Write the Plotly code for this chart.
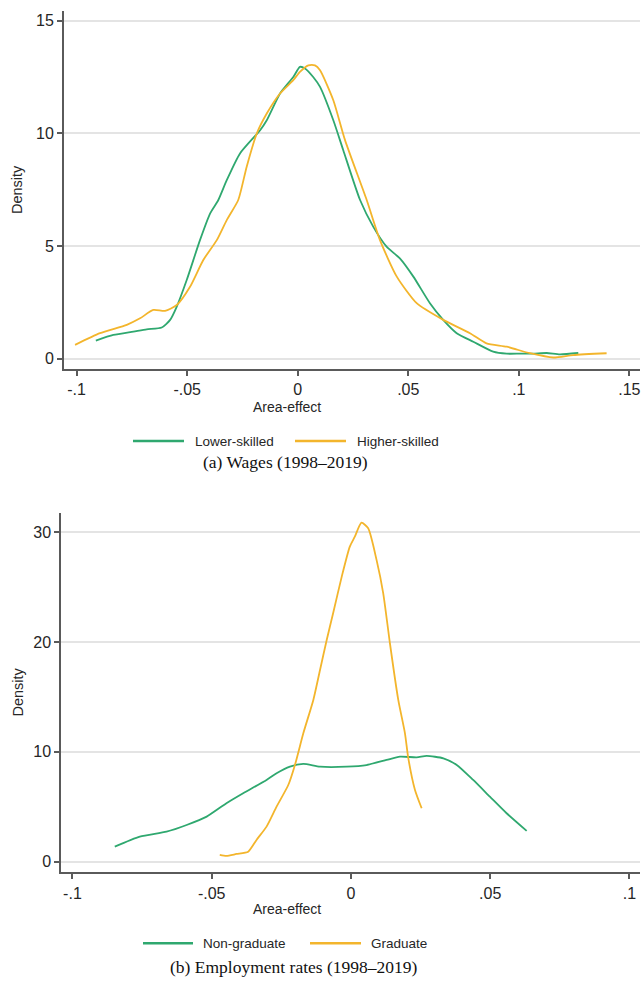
import plotly.graph_objects as go

# ---------------- data ----------------
wage_low_x = [-0.0913, -0.0834, -0.0743, -0.0683, -0.0615, -0.0577, -0.0547, -0.0502, -0.0442, -0.0396,
              -0.0359, -0.0321, -0.0261, -0.0170, -0.0140, -0.0080, -0.0020, 0.0010, 0.0033, 0.0070,
              0.0101, 0.0161, 0.0206, 0.0282, 0.0342, 0.0402, 0.0462, 0.0523, 0.0598, 0.0658,
              0.0719, 0.0794, 0.0884, 0.0945, 0.1005, 0.1065, 0.1126, 0.1186, 0.1269]
wage_low_y = [0.80, 1.05, 1.20, 1.30, 1.38, 1.72, 2.31, 3.49, 5.26, 6.45,
              7.04, 7.92, 9.11, 10.14, 10.58, 11.77, 12.50, 12.95, 12.88, 12.50,
              12.06, 10.58, 9.25, 7.04, 5.85, 4.97, 4.45, 3.64, 2.46, 1.72,
              1.13, 0.75, 0.31, 0.22, 0.22, 0.22, 0.25, 0.19, 0.25]

wage_high_x = [-0.1007, -0.0894, -0.0773, -0.0713, -0.0653, -0.0600, -0.0547, -0.0487, -0.0427, -0.0366,
               -0.0321, -0.0269, -0.0231, -0.0185, -0.0140, -0.0080, -0.0020, 0.0010, 0.0048, 0.0078,
               0.0101, 0.0161, 0.0214, 0.0312, 0.0372, 0.0448, 0.0538, 0.0658, 0.0779, 0.0854,
               0.0945, 0.1050, 0.1156, 0.1246, 0.1397]
wage_high_y = [0.61, 1.13, 1.50, 1.79, 2.16, 2.12, 2.38, 3.19, 4.38, 5.26,
               6.15, 7.04, 8.51, 10.00, 10.88, 11.77, 12.36, 12.73, 13.02, 13.02,
               12.80, 11.47, 9.70, 7.04, 5.26, 3.64, 2.46, 1.72, 1.13, 0.68,
               0.53, 0.24, 0.05, 0.16, 0.24]

emp_non_x = [-0.0848, -0.0758, -0.0662, -0.0590, -0.0518, -0.0447, -0.0387, -0.0303, -0.0267, -0.0219,
             -0.0171, -0.0111, -0.0015, 0.0056, 0.0128, 0.0176, 0.0236, 0.0272, 0.0332, 0.0380,
             0.0439, 0.0499, 0.0559, 0.0631]
emp_non_y = [1.37, 2.28, 2.73, 3.34, 4.10, 5.32, 6.23, 7.44, 8.05, 8.65,
             8.90, 8.65, 8.65, 8.80, 9.26, 9.56, 9.50, 9.63, 9.41, 8.81,
             7.44, 5.92, 4.41, 2.80]

emp_grad_x = [-0.0471, -0.0447, -0.0411, -0.0369, -0.0339, -0.0303, -0.0267, -0.0225, -0.0201, -0.0171,
              -0.0135, -0.0111, -0.0087, -0.0064, -0.0033, -0.0004, 0.0014, 0.0038, 0.0062, 0.0092,
              0.0116, 0.0140, 0.0170, 0.0194, 0.0206, 0.0230, 0.0254]
emp_grad_y = [0.61, 0.52, 0.70, 0.91, 1.98, 3.19, 5.01, 6.98, 8.81, 11.69,
              14.73, 17.46, 20.19, 22.62, 25.96, 28.69, 29.60, 30.87, 30.36, 27.48,
              24.44, 19.89, 14.73, 11.69, 9.42, 6.53, 4.86]

top_xticks = [-0.1, -0.05, 0, 0.05, 0.1, 0.15]
top_xlabels = ["-.1", "-.05", "0", ".05", ".1", ".15"]
top_yticks = [0, 5, 10, 15]
bot_xticks = [-0.1, -0.05, 0, 0.05, 0.1]
bot_xlabels = ["-.1", "-.05", "0", ".05", ".1"]
bot_yticks = [0, 10, 20, 30]

top_names = ["Lower-skilled", "Higher-skilled"]
bot_names = ["Non-graduate", "Graduate"]
captions = ["(a) Wages (1998–2019)", "(b) Employment rates (1998–2019)"]
x_title = "Area-effect"
y_title = "Density"

# ---------------- style ----------------
W, H = 641, 988
GREEN = "#2fa86f"
ORANGE = "#f3b52c"
AXC = "#5a5a5a"
GRID = "#e4e4e4"
TXT = "#262626"
SANS = "Arial, Liberation Sans, sans-serif"
SERIF = "Times New Roman, Liberation Serif, serif"

def px_x(p):
    return p / W

def px_y(p):
    return 1 - p / H

fig = go.Figure()
fig.add_trace(go.Scatter(x=wage_low_x, y=wage_low_y, mode="lines", name=top_names[0],
                         line=dict(color=GREEN, width=1.8, shape="spline", smoothing=0.6),
                         xaxis="x", yaxis="y", showlegend=False))
fig.add_trace(go.Scatter(x=wage_high_x, y=wage_high_y, mode="lines", name=top_names[1],
                         line=dict(color=ORANGE, width=1.8, shape="spline", smoothing=0.6),
                         xaxis="x", yaxis="y", showlegend=False))
fig.add_trace(go.Scatter(x=emp_non_x, y=emp_non_y, mode="lines", name=bot_names[0],
                         line=dict(color=GREEN, width=1.8, shape="spline", smoothing=0.6),
                         xaxis="x2", yaxis="y2", showlegend=False))
fig.add_trace(go.Scatter(x=emp_grad_x, y=emp_grad_y, mode="lines", name=bot_names[1],
                         line=dict(color=ORANGE, width=1.8, shape="spline", smoothing=0.6),
                         xaxis="x2", yaxis="y2", showlegend=False))

axis_common = dict(showline=True, linecolor=AXC, linewidth=2, ticks="outside", ticklen=5,
                   tickwidth=1.5, tickcolor=AXC, zeroline=False,
                   tickfont=dict(family=SANS, size=16, color=TXT))

fig.update_layout(
    width=W, height=H, margin=dict(l=0, r=0, t=0, b=0),
    paper_bgcolor="white", plot_bgcolor="white", showlegend=False,
    xaxis=dict(domain=[px_x(64), px_x(640)], range=[-0.1057, 0.1548], anchor="y",
               tickvals=top_xticks, ticktext=top_xlabels, showgrid=False, **axis_common),
    yaxis=dict(domain=[px_y(369), px_y(11)], range=[-0.46, 15.43], anchor="x",
               tickvals=top_yticks, showgrid=True, gridcolor=GRID, gridwidth=1.5, **axis_common),
    xaxis2=dict(domain=[px_x(61.3), px_x(640)], range=[-0.104, 0.1038], anchor="y2",
                tickvals=bot_xticks, ticktext=bot_xlabels, showgrid=False, **axis_common),
    yaxis2=dict(domain=[px_y(872.3), px_y(512.7)], range=[-0.97, 31.78], anchor="x2",
                tickvals=bot_yticks, showgrid=True, gridcolor=GRID, gridwidth=1.5, **axis_common),
)

annos = []
shapes = []
# axis titles
for cx, cy in [(286.5, 407), (286.5, 909)]:
    annos.append(dict(text=x_title, x=px_x(cx), y=px_y(cy), xref="paper", yref="paper",
                      xanchor="center", yanchor="middle", showarrow=False,
                      font=dict(family=SANS, size=14, color=TXT)))
for cx, cy in [(17, 190), (17, 692.5)]:
    annos.append(dict(text=y_title, x=px_x(cx), y=px_y(cy), xref="paper", yref="paper",
                      xanchor="center", yanchor="middle", showarrow=False, textangle=-90,
                      font=dict(family=SANS, size=14.5, color=TXT)))
# legends (manual, Stata-style)
legend_rows = [
    (441, [(133, 184, 193, GREEN, top_names[0]), (295, 346, 355, ORANGE, top_names[1])]),
    (943.3, [(143, 193, 201, GREEN, bot_names[0]), (310, 361, 369, ORANGE, bot_names[1])]),
]
for ly, items in legend_rows:
    for x0, x1, tx, col, label in items:
        shapes.append(dict(type="line", xref="paper", yref="paper",
                           x0=px_x(x0), x1=px_x(x1), y0=px_y(ly), y1=px_y(ly),
                           line=dict(color=col, width=2.5)))
        annos.append(dict(text=label, x=px_x(tx), y=px_y(ly), xref="paper", yref="paper",
                          xanchor="left", yanchor="middle", showarrow=False,
                          font=dict(family=SANS, size=13.5, color=TXT)))
# captions
for cap, (cx, cy) in zip(captions, [(285, 462), (294, 967)]):
    annos.append(dict(text=cap, x=px_x(cx), y=px_y(cy), xref="paper", yref="paper",
                      xanchor="center", yanchor="middle", showarrow=False,
                      font=dict(family=SERIF, size=17.5, color="#111111")))

fig.update_layout(annotations=annos, shapes=shapes)
fig.write_html("out.html")
